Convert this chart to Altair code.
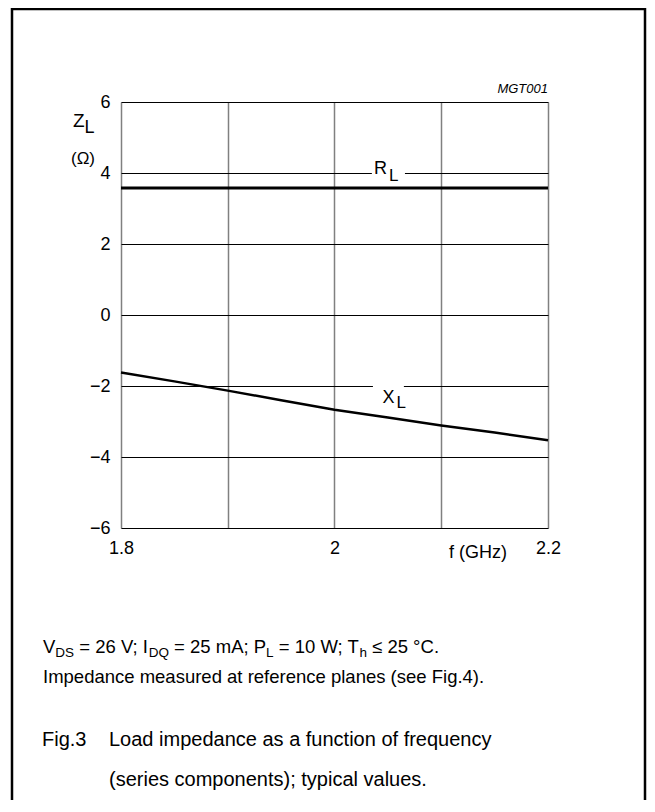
import altair as alt
import pandas as pd

# ---- data ----
freq = [1.80, 1.85, 1.90, 1.95, 2.00, 2.05, 2.10, 2.15, 2.20]
r_l = [3.58, 3.58, 3.58, 3.58, 3.58, 3.58, 3.58, 3.58, 3.58]
x_l = [-1.62, -1.87, -2.13, -2.40, -2.67, -2.89, -3.11, -3.31, -3.53]

x_ticks = [1.8, 1.9, 2.0, 2.1, 2.2]
y_ticks = [-6, -5, -4, -3, -2, -1, 0, 1, 2, 3, 4, 5, 6]

FONT = "Liberation Sans"
W, H = 427, 426
PAD = {"left": 113, "top": 94, "right": 99, "bottom": 272}

# Arial / Liberation Sans advance widths (per 1000 em)
AW = {" ": 278, "(": 333, ")": 333, ".": 278, ",": 278, ";": 278, ":": 278,
      "=": 584, "-": 333, "≤": 549, "°": 400, "Ω": 768}
for c in "0123456789":
    AW[c] = 556
AW.update(dict(zip("ABCDEFGHIJKLMNOPQRSTUVWXYZ",
                   [667, 667, 722, 722, 667, 611, 778, 722, 278, 500, 667, 556, 833,
                    722, 778, 667, 778, 722, 667, 611, 722, 667, 944, 667, 667, 611])))
AW.update(dict(zip("abcdefghijklmnopqrstuvwxyz",
                   [556, 556, 500, 556, 556, 278, 556, 556, 222, 222, 500, 222, 833,
                    556, 556, 556, 556, 333, 500, 278, 556, 500, 722, 500, 500, 500])))


def tw(s, size):
    return sum(AW.get(c, 556) for c in s) / 1000.0 * size


def run(pieces, x0, y0, size, sub_size, sub_dy):
    """Lay out text pieces (normal / subscript) one after another.
    Vega trims whitespace, so leading spaces become an x offset."""
    rows = []
    x = x0
    for txt, sub in pieces:
        fs = sub_size if sub else size
        lead = txt[: len(txt) - len(txt.lstrip())]
        rows.append({"text": txt.strip(), "px": x + tw(lead, fs),
                     "py": y0 + (sub_dy if sub else 0), "fs": fs})
        x += tw(txt, fs)
    return rows


text_rows = []
# y axis title Z_L (Ω)
text_rows += run([("Z", False), ("L", True)], -48, 25, 19, 18, 6)
text_rows += [{"text": "(Ω)", "px": -50, "py": 62, "fs": 17}]
# x axis title
text_rows += [{"text": "f (GHz)", "px": 328, "py": 456, "fs": 18}]
# conditions
text_rows += run([("V", False), ("DS", True), (" = 26 V; I", False), ("DQ", True),
                  (" = 25 mA; P", False), ("L", True), (" = 10 W; T", False), ("h", True),
                  (" ≤ 25 °C.", False)], -78, 551, 18.5, 13.5, 4)
text_rows += [{"text": "Impedance measured at reference planes (see Fig.4).",
               "px": -78, "py": 581, "fs": 18.5}]
# figure caption
text_rows += [{"text": "Fig.3", "px": -79, "py": 644, "fs": 20},
              {"text": "Load impedance as a function of frequency", "px": -12, "py": 644, "fs": 20},
              {"text": "(series components); typical values.", "px": -12, "py": 684, "fs": 20}]
text_df = pd.DataFrame(text_rows)

df = pd.DataFrame({"f": freq, "rl": r_l, "xl": x_l})

# curve labels (anchored in data space) with white gaps in the grid line
lab_df = pd.DataFrame({
    "f": [2.037, 2.051, 2.045, 2.058],
    "z": [3.96, 3.78, -2.47, -2.63],
    "text": ["R", "L", "X", "L"],
    "fs": [18, 17, 18, 17],
})
gap_df = pd.DataFrame({"f1": [2.035, 2.036], "f2": [2.066, 2.065],
                       "z1": [3.85, -1.85], "z2": [4.15, -2.15]})

xs = alt.Scale(domain=[1.8, 2.2], nice=False, zero=False)
ys = alt.Scale(domain=[-6, 6], nice=False, zero=False)

base = alt.Chart(df)

axes = base.mark_line(opacity=0).encode(
    x=alt.X("f:Q", scale=xs,
            axis=alt.Axis(values=x_ticks, format=".1~f",
                          labelExpr="(datum.value > 1.85 && datum.value < 1.95) || (datum.value > 2.05 && datum.value < 2.15) ? '' : datum.label",
                          grid=True, gridColor="#808080", gridWidth=1.5,
                          domain=False, ticks=False, labelFontSize=18, labelFont=FONT,
                          labelColor="black", labelPadding=11, labelFlush=False,
                          title=None)),
    y=alt.Y("rl:Q", scale=ys,
            axis=alt.Axis(values=y_ticks,
                          labelExpr="datum.value % 2 == 0 ? replace(format(datum.value, 'd'), '-', '−') : ''",
                          grid=True, gridColor="black", gridWidth=1,
                          domain=False, ticks=False, labelFontSize=18, labelFont=FONT,
                          labelColor="black", labelPadding=11, labelFlush=False,
                          title=None)),
)

rl_line = base.mark_line(color="black", strokeWidth=3).encode(
    x=alt.X("f:Q", scale=xs), y=alt.Y("rl:Q", scale=ys))
xl_line = base.mark_line(color="black", strokeWidth=2.5).encode(
    x=alt.X("f:Q", scale=xs), y=alt.Y("xl:Q", scale=ys))

gaps = alt.Chart(gap_df).mark_rect(color="white").encode(
    x=alt.X("f1:Q", scale=xs), x2="f2:Q",
    y=alt.Y("z1:Q", scale=ys), y2="z2:Q")

labels = alt.Chart(lab_df).mark_text(align="left", baseline="alphabetic", font=FONT,
                                     color="black").encode(
    x=alt.X("f:Q", scale=xs), y=alt.Y("z:Q", scale=ys),
    text="text:N", size=alt.Size("fs:Q", scale=None, legend=None))

texts = alt.Chart(text_df).mark_text(align="left", baseline="alphabetic", font=FONT,
                                     color="black").encode(
    x=alt.X("px:Q", scale=None, axis=None),
    y=alt.Y("py:Q", scale=None, axis=None),
    text="text:N", size=alt.Size("fs:Q", scale=None, legend=None))

code = alt.Chart(pd.DataFrame({"t": ["MGT001"]})).mark_text(
    align="right", baseline="alphabetic", font=FONT, fontStyle="italic", fontSize=13,
    color="black").encode(x=alt.value(W), y=alt.value(-9), text="t:N")

border = alt.Chart(pd.DataFrame({"a": [0]})).mark_rect(
    fillOpacity=0, stroke="black", strokeWidth=2.5).encode(
    x=alt.value(-109), x2=alt.value(524), y=alt.value(-93), y2=alt.value(740))

chart = alt.layer(axes, gaps, rl_line, xl_line, labels, texts, code, border).properties(
    width=W, height=H, padding=PAD,
    autosize=alt.AutoSizeParams(type="none"),
).configure_view(stroke="#808080", strokeWidth=1.5).configure(background="white")

chart.save("out.html", embed_options={"renderer": "svg", "actions": False})
